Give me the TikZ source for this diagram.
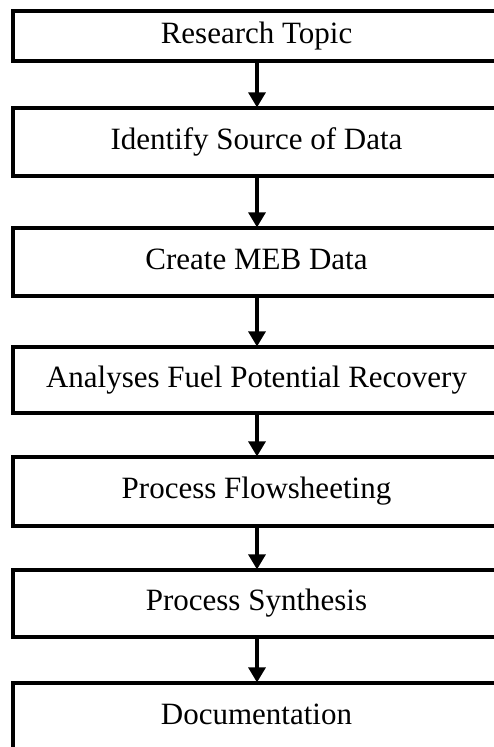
\documentclass[tikz,border=0pt]{standalone}
\usepackage{fontspec}
\setmainfont{Liberation Serif}
\usetikzlibrary{arrows.meta}

\tikzset{
  stage/.style={draw=black, line width=3.2pt, fill=white,
    minimum width=487pt, inner sep=0pt,
    text height=22pt, text depth=8pt,
    font=\fontsize{31}{36}\selectfont},
  flow/.style={line width=3.2pt,
    -{Triangle[length=15pt,width=17pt]}, shorten >=-1pt}
}

\begin{document}
\begin{tikzpicture}[x=1pt,y=-1pt]
  \useasboundingbox (0,0) rectangle (494,747);
  \clip (0,0) rectangle (494,747);

  \node[stage, minimum height=50pt] (topic)  at (256.5,36)    {Research Topic};
  \node[stage, minimum height=68pt] (source) at (256.5,142)   {Identify Source of Data};
  \node[stage, minimum height=68pt] (meb)    at (256.5,262)   {Create MEB Data};
  \node[stage, minimum height=66pt] (fuel)   at (256.5,380)   {Analyses Fuel Potential Recovery};
  \node[stage, minimum height=69pt] (sheet)  at (256.5,491.5) {Process Flowsheeting};
  \node[stage, minimum height=67pt] (synth)  at (256.5,603.5) {Process Synthesis};
  \node[stage, minimum height=68pt] (doc)    at (256.5,717)   {Documentation};

  \foreach \a/\b in {topic/source, source/meb, meb/fuel, fuel/sheet, sheet/synth, synth/doc}
    \draw[flow] (\a.south -| 257,0) -- (\b.north -| 257,0);
\end{tikzpicture}
\end{document}
